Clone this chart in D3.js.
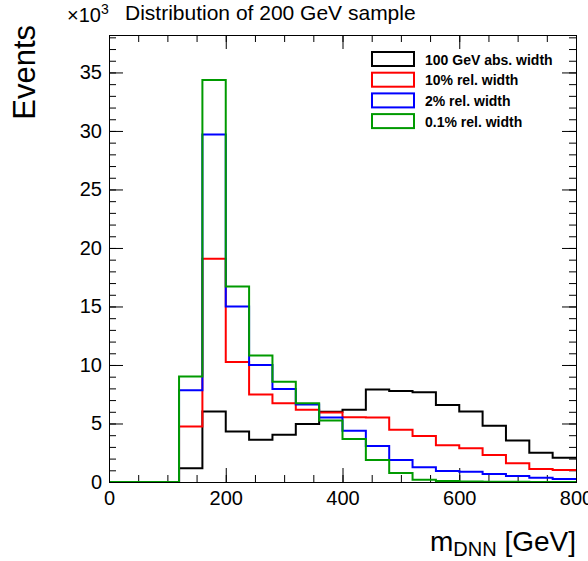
<!DOCTYPE html>
<html>
<head>
<meta charset="utf-8">
<script src="https://cdn.jsdelivr.net/npm/d3@7"></script>
<style>
  body { margin: 0; background: #fff; }
  svg { display: block; font-family: "Liberation Sans", Arial, Helvetica, sans-serif; }
</style>
</head>
<body>
<svg id="chart" width="588" height="561"></svg>
<script>
// bin edges in GeV (40 GeV bins)
const binEdges = [0, 40, 80, 120, 160, 200, 240, 280, 320, 360, 400, 440, 480, 520, 560, 600, 640, 680, 720, 760, 800];

// events per bin, in units of 10^3
const abs100 = [0, 0, 0, 1.17, 6.03, 4.31, 3.6, 4.03, 4.95, 6.0, 6.17, 7.9, 7.77, 7.67, 6.57, 6.03, 4.8, 3.54, 2.51, 2.08];
const rel10  = [0, 0, 0, 4.74, 19.08, 10.26, 7.48, 6.74, 6.17, 5.95, 5.53, 5.51, 4.46, 3.94, 3.15, 2.89, 2.31, 1.6, 1.12, 1.03];
const rel2   = [0, 0, 0, 7.85, 29.7, 15.0, 10.0, 7.94, 6.62, 5.52, 4.37, 3.08, 1.89, 1.26, 0.94, 0.87, 0.68, 0.51, 0.36, 0.26];
const rel01  = [0, 0, 0, 9.02, 34.35, 16.7, 10.8, 8.57, 6.74, 5.25, 3.67, 1.89, 0.77, 0.2, 0.08, 0.05, 0.03, 0.02, 0.01, 0.01];

const seriesNames = ["100 GeV abs. width", "10% rel. width", "2% rel. width", "0.1% rel. width"];
const seriesColors = ["#000000", "#ff0000", "#0000ff", "#009a00"];
const seriesValues = [abs100, rel10, rel2, rel01];

const xMajorTicks = [0, 200, 400, 600, 800];
const yMajorTicks = [0, 5, 10, 15, 20, 25, 30, 35];

const padL = 109, padR = 576, padT = 35, padB = 482;

const svg = d3.select("#chart");

const x = d3.scaleLinear().domain([0, 800]).range([padL, padR]);
const y = d3.scaleLinear().domain([0, 38.2]).range([padB, padT]);

const xMinor = d3.range(0, 801, 50);
const yMinor = d3.range(0, 39, 1);

function clean(g) {
  g.select(".domain").remove();
  g.selectAll("line").attr("stroke", "#000").attr("stroke-width", 1);
  g.selectAll("text").attr("font-size", 20).attr("fill", "#000")
    .attr("font-family", "Liberation Sans, Arial, sans-serif");
}

// bottom
svg.append("g").attr("transform", `translate(0,${padB})`)
   .call(d3.axisBottom(x).tickValues(xMinor).tickSizeInner(-7).tickSizeOuter(0).tickFormat(""))
   .call(clean);
svg.append("g").attr("transform", `translate(0,${padB})`)
   .call(d3.axisBottom(x).tickValues(xMajorTicks).tickSizeInner(-14).tickSizeOuter(0).tickPadding(9).tickFormat(d3.format("d")))
   .call(clean);
// top
svg.append("g").attr("transform", `translate(0,${padT})`)
   .call(d3.axisTop(x).tickValues(xMinor).tickSizeInner(-7).tickSizeOuter(0).tickFormat(""))
   .call(clean);
svg.append("g").attr("transform", `translate(0,${padT})`)
   .call(d3.axisTop(x).tickValues(xMajorTicks).tickSizeInner(-14).tickSizeOuter(0).tickFormat(""))
   .call(clean);
// left
svg.append("g").attr("transform", `translate(${padL},0)`)
   .call(d3.axisLeft(y).tickValues(yMinor).tickSizeInner(-7).tickSizeOuter(0).tickFormat(""))
   .call(clean);
svg.append("g").attr("transform", `translate(${padL},0)`)
   .call(d3.axisLeft(y).tickValues(yMajorTicks).tickSizeInner(-14).tickSizeOuter(0).tickPadding(7).tickFormat(d3.format("d")))
   .call(clean);
// right
svg.append("g").attr("transform", `translate(${padR},0)`)
   .call(d3.axisRight(y).tickValues(yMinor).tickSizeInner(-7).tickSizeOuter(0).tickFormat(""))
   .call(clean);
svg.append("g").attr("transform", `translate(${padR},0)`)
   .call(d3.axisRight(y).tickValues(yMajorTicks).tickSizeInner(-14).tickSizeOuter(0).tickFormat(""))
   .call(clean);

// histograms
const line = d3.line().x(d => x(d[0])).y(d => y(d[1]));
seriesValues.forEach((vals, k) => {
  const pts = [];
  vals.forEach((v, i) => { pts.push([binEdges[i], v], [binEdges[i + 1], v]); });
  svg.append("path")
     .attr("d", line(pts))
     .attr("fill", "none")
     .attr("stroke", seriesColors[k])
     .attr("stroke-width", 2);
});

// frame
svg.append("rect")
   .attr("x", padL + 0.5).attr("y", padT + 0.5)
   .attr("width", padR - padL).attr("height", padB - padT)
   .attr("fill", "none").attr("stroke", "#000").attr("stroke-width", 1);

// legend
const legend = svg.append("g");
seriesNames.forEach((name, i) => {
  const ly = 52 + i * 20.7;
  legend.append("rect")
        .attr("x", 372).attr("y", ly)
        .attr("width", 42).attr("height", 14)
        .attr("fill", "#fff").attr("stroke", seriesColors[i]).attr("stroke-width", 2);
  legend.append("text")
        .attr("x", 425).attr("y", ly + 12.5)
        .attr("font-size", 14).attr("font-weight", "bold")
        .text(name);
});

// titles
svg.append("text").attr("x", 125).attr("y", 20).attr("font-size", 21)
   .text("Distribution of 200 GeV sample");

const exp = svg.append("text").attr("x", 67).attr("y", 22).attr("font-size", 20);
exp.append("tspan").text("\u00d710");
exp.append("tspan").attr("font-size", 14).attr("dy", -8).text("3");

svg.append("text")
   .attr("transform", "translate(35,25) rotate(-90)")
   .attr("text-anchor", "end").attr("font-size", 31)
   .text("Events");

const xt = svg.append("text").attr("x", 576).attr("y", 551)
   .attr("text-anchor", "end").attr("font-size", 28);
xt.append("tspan").text("m");
xt.append("tspan").attr("font-size", 20).attr("dy", 5).text("DNN");
xt.append("tspan").attr("dy", -5).text(" [GeV]");
</script>
</body>
</html>
